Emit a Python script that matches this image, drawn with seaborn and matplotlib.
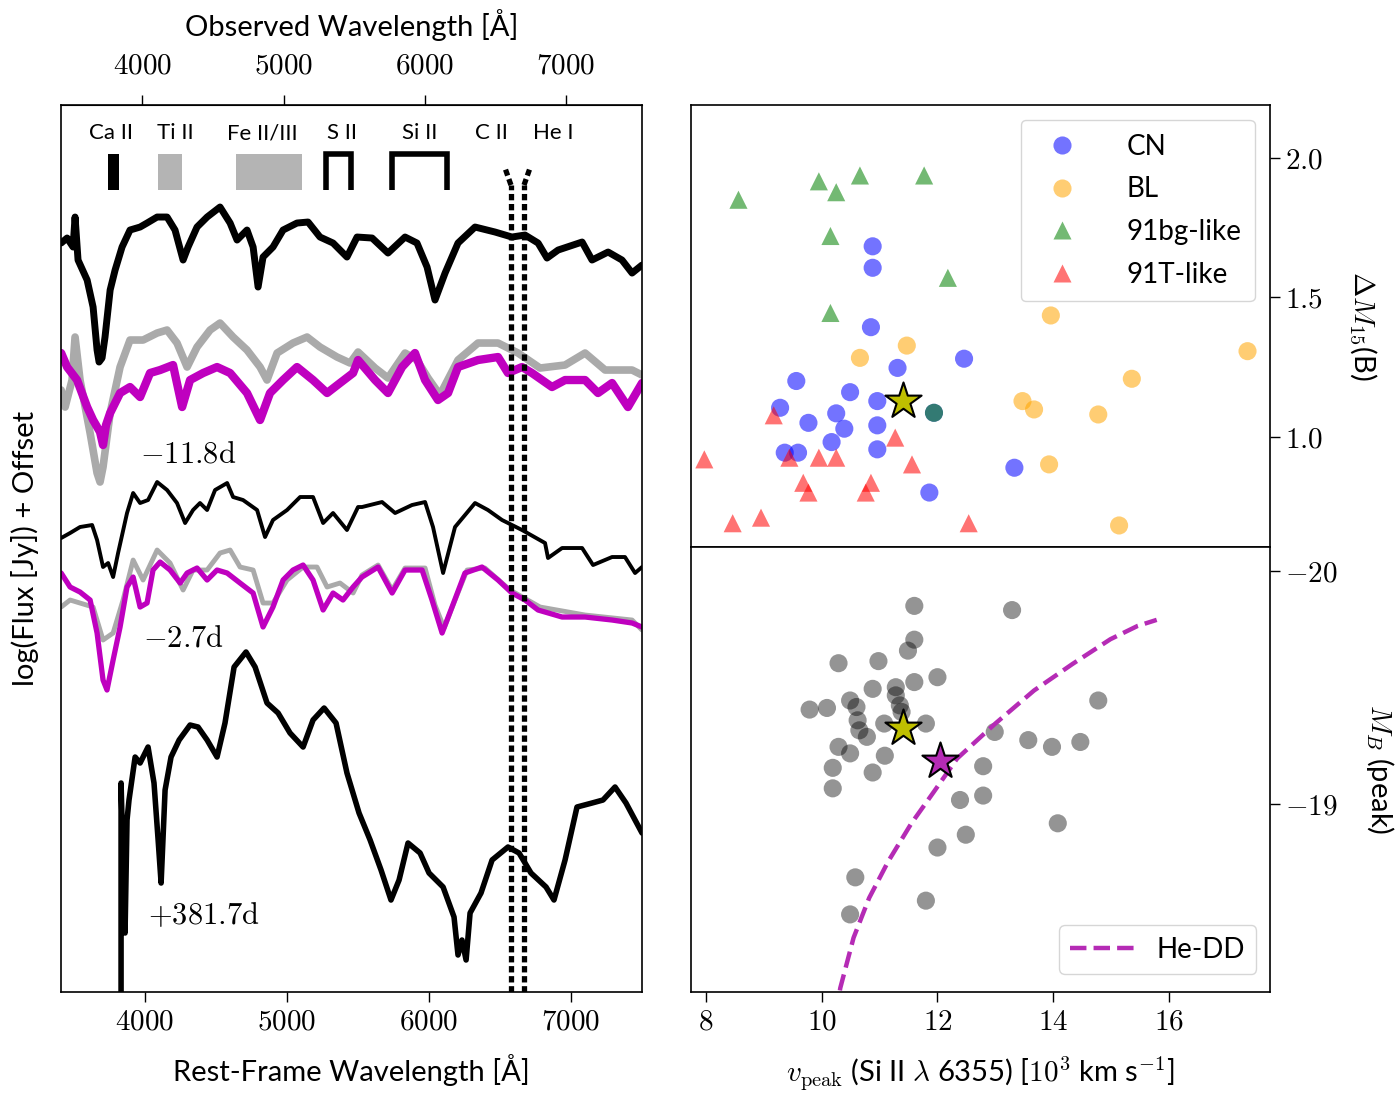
import numpy as np
import pandas as pd
import matplotlib
matplotlib.use("Agg")
import matplotlib.pyplot as plt
import seaborn as sns
from matplotlib.ticker import FuncFormatter, FixedLocator

sns.set_style("ticks", rc={"axes.edgecolor": "black", "xtick.color": "black",
                           "ytick.color": "black", "text.color": "black",
                           "axes.labelcolor": "black"})
plt.rcParams["font.family"] = ["Lato", "DejaVu Sans"]
plt.rcParams["mathtext.fontset"] = "cm"

# ---------------- spectra (rest wavelength [A], log flux + offset) ----------------
wave_a = [3409, 3451, 3493, 3507, 3528, 3592, 3634, 3662, 3676, 3697, 3718, 3754, 3789, 3838, 3894,
          3965, 4014, 4085, 4155, 4211, 4268, 4303, 4366, 4437, 4528, 4599, 4648, 4718, 4761, 4796,
          4831, 4901, 4972, 5070, 5148, 5232, 5324, 5422, 5493, 5599, 5711, 5831, 5915, 5986, 6042,
          6113, 6204, 6324, 6465, 6584, 6676, 6768, 6831, 6909, 7078, 7148, 7261, 7359, 7430, 7500]
flux_a = [7.49, 7.54, 7.45, 7.75, 7.32, 7.12, 6.85, 6.42, 6.30, 6.34, 6.55, 7.02, 7.22, 7.45, 7.62,
          7.65, 7.69, 7.75, 7.75, 7.62, 7.32, 7.45, 7.65, 7.75, 7.85, 7.69, 7.52, 7.62, 7.45, 7.05,
          7.35, 7.45, 7.62, 7.69, 7.70, 7.55, 7.49, 7.35, 7.55, 7.54, 7.39, 7.55, 7.49, 7.25, 6.92,
          7.19, 7.49, 7.65, 7.60, 7.55, 7.57, 7.49, 7.34, 7.42, 7.50, 7.32, 7.40, 7.32, 7.19, 7.27]

wave_b = [3409, 3451, 3521, 3592, 3634, 3683, 3704, 3725, 3754, 3824, 3894, 3965, 4035, 4106, 4197,
          4261, 4317, 4409, 4507, 4599, 4718, 4810, 4880, 4972, 5070, 5183, 5282, 5373, 5465, 5500,
          5620, 5711, 5810, 5901, 5972, 6063, 6134, 6204, 6345, 6486, 6556, 6655, 6725, 6866, 6958,
          7099, 7190, 7289, 7401, 7500]
flux_b = [6.39, 6.25, 6.12, 5.85, 5.72, 5.60, 5.47, 5.67, 5.79, 5.99, 6.05, 5.95, 6.19, 6.22, 6.27,
          5.85, 6.12, 6.19, 6.25, 6.19, 5.99, 5.72, 5.99, 6.12, 6.25, 6.12, 5.99, 6.09, 6.19, 6.32,
          6.12, 5.99, 6.25, 6.39, 6.12, 5.92, 5.99, 6.25, 6.32, 6.35, 6.19, 6.25, 6.19, 6.05, 6.12,
          6.12, 5.99, 6.09, 5.85, 6.09]

wave_c = [3409, 3437, 3486, 3507, 3542, 3613, 3662, 3683, 3704, 3754, 3824, 3894, 3986, 4085, 4155,
          4225, 4296, 4366, 4458, 4528, 4620, 4718, 4810, 4859, 4930, 5042, 5141, 5232, 5352, 5444,
          5500, 5620, 5711, 5831, 5915, 5993, 6077, 6204, 6345, 6486, 6627, 6782, 6958, 7099, 7240,
          7430, 7500]
flux_c = [6.02, 5.85, 6.12, 6.55, 6.12, 5.59, 5.19, 5.10, 5.25, 5.79, 6.25, 6.52, 6.52, 6.59, 6.62,
          6.49, 6.25, 6.45, 6.62, 6.69, 6.55, 6.42, 6.25, 6.12, 6.39, 6.49, 6.55, 6.45, 6.35, 6.29,
          6.40, 6.24, 6.14, 6.39, 6.32, 6.14, 5.97, 6.32, 6.49, 6.49, 6.39, 6.24, 6.27, 6.39, 6.22,
          6.22, 6.17]

wave_d = [3409, 3472, 3542, 3627, 3662, 3704, 3740, 3775, 3810, 3873, 3916, 3965, 4021, 4085, 4155,
          4225, 4282, 4338, 4387, 4437, 4493, 4578, 4620, 4690, 4789, 4845, 4901, 5000, 5092, 5183,
          5254, 5324, 5422, 5500, 5528, 5669, 5761, 5880, 5972, 6028, 6099, 6183, 6324, 6415, 6514,
          6655, 6817, 6838, 6937, 7078, 7155, 7289, 7380, 7451, 7500]
flux_d = [4.54, 4.59, 4.65, 4.67, 4.52, 4.25, 4.29, 4.15, 4.39, 4.79, 4.99, 4.89, 4.92, 5.10, 5.02,
          4.89, 4.69, 4.82, 4.89, 4.82, 5.02, 5.09, 4.95, 4.92, 4.82, 4.55, 4.72, 4.82, 4.95, 4.95,
          4.69, 4.79, 4.62, 4.85, 4.85, 4.90, 4.79, 4.87, 4.90, 4.65, 4.19, 4.65, 4.89, 4.82, 4.72,
          4.62, 4.49, 4.34, 4.44, 4.44, 4.27, 4.35, 4.35, 4.19, 4.25]

wave_e = [3409, 3472, 3542, 3613, 3662, 3704, 3732, 3775, 3824, 3873, 3916, 3965, 4014, 4056, 4106,
          4176, 4247, 4296, 4366, 4437, 4507, 4578, 4669, 4761, 4831, 4901, 4972, 5042, 5113, 5183,
          5254, 5324, 5394, 5465, 5528, 5641, 5740, 5831, 5951, 6021, 6092, 6162, 6253, 6373, 6486,
          6584, 6676, 6768, 6937, 7099, 7289, 7430, 7500]
flux_e = [4.19, 4.05, 4.00, 3.92, 3.59, 3.12, 3.02, 3.32, 3.65, 4.05, 4.15, 3.85, 3.89, 4.22, 4.30,
          4.22, 4.09, 4.19, 4.24, 4.12, 4.22, 4.19, 4.09, 3.99, 3.65, 3.85, 4.12, 4.22, 4.27, 4.12,
          3.82, 3.99, 3.92, 4.05, 4.15, 4.25, 3.99, 4.22, 4.22, 3.92, 3.59, 3.85, 4.19, 4.25, 4.12,
          3.99, 3.92, 3.82, 3.75, 3.75, 3.72, 3.69, 3.65]

wave_f = [3409, 3472, 3634, 3704, 3775, 3845, 3916, 3986, 4085, 4176, 4268, 4338, 4437, 4528, 4599,
          4669, 4761, 4831, 4901, 5000, 5113, 5211, 5282, 5373, 5465, 5528, 5641, 5740, 5831, 5972,
          6042, 6106, 6183, 6268, 6394, 6570, 6782, 7099, 7430, 7500]
flux_f = [3.85, 3.92, 3.85, 3.52, 3.59, 3.92, 4.32, 4.12, 4.42, 4.29, 4.02, 4.22, 4.22, 4.39, 4.42,
          4.25, 4.22, 3.89, 3.89, 4.12, 4.25, 4.25, 4.05, 4.09, 3.99, 4.17, 4.27, 4.02, 4.24, 4.24,
          3.87, 3.64, 3.92, 4.22, 4.24, 4.02, 3.85, 3.77, 3.72, 3.62]

wave_g = [3831, 3831, 3845, 3859, 3873, 3887, 3930, 3965, 4021, 4063, 4092, 4113, 4141, 4183, 4240,
          4317, 4373, 4437, 4507, 4563, 4627, 4711, 4775, 4859, 4937, 5021, 5113, 5183, 5261, 5345,
          5422, 5507, 5585, 5662, 5732, 5789, 5852, 5937, 6000, 6099, 6176, 6204, 6232, 6261, 6289,
          6366, 6444, 6556, 6634, 6718, 6824, 6880, 6958, 7042, 7148, 7225, 7310, 7387, 7500]
flux_g = [-0.05, 2.09, 1.32, 0.59, 1.72, 1.92, 2.35, 2.29, 2.45, 2.09, 1.52, 1.09, 2.02, 2.35, 2.52,
          2.67, 2.65, 2.52, 2.35, 2.69, 3.25, 3.40, 3.25, 2.89, 2.79, 2.59, 2.45, 2.72, 2.84, 2.69,
          2.19, 1.79, 1.52, 1.22, 0.92, 1.12, 1.49, 1.39, 1.19, 1.05, 0.75, 0.37, 0.52, 0.32, 0.79,
          0.99, 1.32, 1.45, 1.39, 1.19, 1.05, 0.92, 1.32, 1.85, 1.89, 1.92, 2.05, 1.89, 1.59]

phase_labels = ["-11.8d", "-2.7d", "+381.7d"]
phase_wave = [3965, 3986, 4021]
phase_flux = [5.39, 3.55, 0.77]

# line identifications
ion_names = ["Ca II", "Ti II", "Fe II/III", "S II", "Si II", "C II", "He I"]
ion_label_wave = [3761, 4211, 4824, 5387, 5937, 6437, 6873]
band_lo = [3738, 4092, 4641]
band_hi = [3816, 4261, 5106]
band_colors = ["black", "#b4b4b4", "#b4b4b4"]
bracket_lo = [5275, 5740]
bracket_hi = [5451, 6127]
dotted_waves = [6577, 6669]
z_host = 0.005

# ---------------- scatter data ----------------
cn_v = [10.88, 10.88, 10.85, 11.31, 12.46, 9.56, 10.49, 10.96, 9.28, 10.25, 9.77, 10.39, 10.96,
        10.17, 10.96, 9.36, 9.59, 11.94, 13.33, 11.86]
cn_dm = [1.683, 1.606, 1.393, 1.247, 1.28, 1.20, 1.16, 1.128, 1.104, 1.084, 1.05, 1.029, 1.041,
         0.981, 0.955, 0.943, 0.943, 1.086, 0.889, 0.80]
bl_v = [13.96, 11.47, 10.66, 17.36, 15.36, 13.47, 13.67, 14.78, 13.93, 15.14]
bl_dm = [1.435, 1.327, 1.283, 1.307, 1.208, 1.128, 1.098, 1.08, 0.901, 0.682]
bg_v = [8.56, 9.95, 10.25, 10.66, 11.77, 10.15, 12.18, 10.15]
bg_dm = [1.85, 1.916, 1.877, 1.937, 1.937, 1.72, 1.57, 1.444]
t_v = [7.97, 9.17, 9.44, 9.95, 10.25, 9.68, 9.77, 10.85, 10.76, 11.27, 11.56, 8.46, 8.95, 12.54]
t_dm = [0.919, 1.077, 0.925, 0.925, 0.925, 0.835, 0.80, 0.835, 0.80, 0.997, 0.901, 0.69, 0.71, 0.69]
overlap_v = [11.94]
overlap_dm = [1.086]

mb_v = [11.60, 13.29, 11.60, 11.49, 10.29, 10.98, 11.60, 12.00, 10.88, 11.28, 11.28, 10.49, 10.60,
        11.35, 11.38, 9.79, 10.09, 14.78, 10.62, 10.65, 10.78, 11.08, 11.80, 12.99, 13.57, 13.98,
        14.47, 10.29, 10.49, 11.09, 10.19, 10.88, 10.19, 12.79, 12.39, 12.79, 14.08, 12.49, 12.00,
        10.58, 11.80, 10.49]
mb_peak = [-19.85, -19.832, -19.705, -19.658, -19.604, -19.613, -19.523, -19.544, -19.494, -19.501,
           -19.466, -19.444, -19.416, -19.423, -19.395, -19.405, -19.412, -19.444, -19.359, -19.316,
           -19.288, -19.345, -19.345, -19.309, -19.274, -19.245, -19.266, -19.245, -19.217, -19.207,
           -19.155, -19.135, -19.067, -19.162, -19.017, -19.036, -18.917, -18.868, -18.813, -18.685,
           -18.585, -18.526]

sn_v = 11.41
sn_dm = 1.128
sn_mb = -19.326
model_star_v = 12.04
model_star_mb = -19.184

hedd_v = [10.25, 10.32, 10.55, 10.82, 11.15, 11.55, 11.94, 12.34, 13.00, 13.67, 14.33, 14.99, 15.46, 15.79]
hedd_mb = [-18.10, -18.21, -18.426, -18.597, -18.754, -18.917, -19.053, -19.195, -19.345, -19.487,
           -19.60, -19.707, -19.764, -19.79]

# ---------------- figure ----------------
fig = plt.figure(figsize=(13.96, 10.93), dpi=100)
axL = fig.add_axes([0.0437, 0.0924, 0.4162, 0.8115])
axT = fig.add_axes([0.4950, 0.4996, 0.4148, 0.4044])
axB = fig.add_axes([0.4950, 0.0924, 0.4148, 0.4072], sharex=axT)

mfmt = FuncFormatter(lambda v, p: f"${v:g}$")
TICK_FS = 21
LAB_FS = 21

MAG = "#bf00bf"
GRAY = "#aaaaaa"

def spec(ax, w, f, color, lw):
    sns.lineplot(x=w, y=f, ax=ax, color=color, lw=lw, sort=False, estimator=None)

spec(axL, wave_a, flux_a, "black", 5)
spec(axL, wave_c, flux_c, GRAY, 5.5)
spec(axL, wave_b, flux_b, MAG, 6)
spec(axL, wave_d, flux_d, "black", 2.8)
spec(axL, wave_f, flux_f, GRAY, 3.5)
spec(axL, wave_e, flux_e, MAG, 3.8)
spec(axL, wave_g, flux_g, "black", 4)

for lab, w, f in zip(phase_labels, phase_wave, phase_flux):
    axL.text(w, f, r"$\mathrm{" + lab + "}$", fontsize=22, va="center", ha="left")

for name, w in zip(ion_names, ion_label_wave):
    axL.text(w, 8.59, name, fontsize=16, ha="center", va="center")
for lo, hi, c in zip(band_lo, band_hi, band_colors):
    axL.fill_between([lo, hi], [8.02, 8.02], [8.38, 8.38], color=c, lw=0)
for lo, hi in zip(bracket_lo, bracket_hi):
    axL.plot([lo, lo, hi, hi], [8.02, 8.38, 8.38, 8.02], color="black", lw=4,
             solid_joinstyle="miter", solid_capstyle="butt")
for w, dx in zip(dotted_waves, [-42, 42]):
    axL.plot([w, w], [0, 8.07], color="black", lw=3.8, ls=(0, (1.2, 0.7)))
    axL.plot([w, w + dx], [8.07, 8.24], color="black", lw=3.8, ls=(0, (1.2, 0.7)))

axL.set_xlim(3408, 7500)
axL.set_ylim(0, 8.87)
axL.set_yticks([])
axL.xaxis.set_major_locator(FixedLocator([4000, 5000, 6000, 7000]))
axL.xaxis.set_major_formatter(mfmt)
axL.tick_params(axis="x", labelsize=TICK_FS, length=7, width=1, direction="out", top=False, pad=5)
axL.set_xlabel("Rest-Frame Wavelength [Å]", fontsize=LAB_FS, labelpad=14)
axL.set_ylabel("log(Flux [Jy]) + Offset", fontsize=LAB_FS, labelpad=16)

sec = axL.secondary_xaxis("top", functions=(lambda x: x * (1 + z_host), lambda x: x / (1 + z_host)))
sec.xaxis.set_major_locator(FixedLocator([4000, 5000, 6000, 7000]))
sec.xaxis.set_major_formatter(mfmt)
sec.tick_params(axis="x", labelsize=TICK_FS, length=7, width=1, direction="out", pad=12)
sec.set_xlabel("Observed Wavelength [Å]", fontsize=LAB_FS, labelpad=12)

# top right panel
df_top = pd.DataFrame({
    "v": cn_v + bl_v + bg_v + t_v,
    "dm": cn_dm + bl_dm + bg_dm + t_dm,
    "type": ["CN"] * len(cn_v) + ["BL"] * len(bl_v) + ["91bg-like"] * len(bg_v) + ["91T-like"] * len(t_v),
})
pal = {"CN": "blue", "BL": "orange", "91bg-like": "green", "91T-like": "red"}
mk = {"CN": "o", "BL": "o", "91bg-like": "^", "91T-like": "^"}
sns.scatterplot(data=df_top, x="v", y="dm", hue="type", style="type", palette=pal, markers=mk,
                hue_order=["CN", "BL", "91bg-like", "91T-like"],
                style_order=["CN", "BL", "91bg-like", "91T-like"],
                s=170, alpha=0.55, edgecolor="none", ax=axT)
sns.scatterplot(x=overlap_v, y=overlap_dm, color="green", s=170, alpha=0.55, edgecolor="none",
                marker="o", ax=axT, legend=False)
sns.scatterplot(x=[sn_v], y=[sn_dm], color="y", marker="*", s=750, edgecolor="black",
                linewidth=1.5, ax=axT, legend=False, zorder=5)
axT.set_ylim(0.605, 2.19)
axT.set_xlim(7.74, 17.75)
leg = axT.legend(loc="upper right", fontsize=20, frameon=True, borderpad=0.5,
                 labelspacing=0.6, handletextpad=1.3, bbox_to_anchor=(0.998, 0.998))
leg.get_frame().set_edgecolor("#cccccc")
for h in leg.legend_handles:
    h.set_alpha(0.55)

axT.yaxis.tick_right()
axT.yaxis.set_label_position("right")
axT.set_yticks([1.0, 1.5, 2.0])
axT.yaxis.set_major_formatter(FuncFormatter(lambda v, p: f"${v:.1f}$"))
axT.tick_params(axis="y", labelsize=TICK_FS, length=7, width=1, direction="out", left=False)
axT.tick_params(axis="x", labelbottom=False, length=7, width=1, direction="out")
axT.set_xlabel("")
axT.set_ylabel(r"$\Delta M_{15}$(B)", fontsize=LAB_FS, rotation=270, labelpad=40)

# bottom right panel
sns.scatterplot(x=mb_v, y=mb_peak, color="black", alpha=0.42, s=170, edgecolor="none", ax=axB,
                legend=False)
sns.lineplot(x=hedd_v, y=hedd_mb, ax=axB, color="#b52bb5", lw=3.2, ls="--", sort=False,
             estimator=None, label="He-DD")
sns.scatterplot(x=[sn_v], y=[sn_mb], color="y", marker="*", s=750, edgecolor="black",
                linewidth=1.5, ax=axB, legend=False, zorder=5)
sns.scatterplot(x=[model_star_v], y=[model_star_mb], color="#b52bb5", marker="*", s=750,
                edgecolor="black", linewidth=1.5, ax=axB, legend=False, zorder=5)
axB.set_ylim(-18.193, -20.103)
axB.set_xlim(7.74, 17.75)
legB = axB.legend(loc="lower right", fontsize=20, handlelength=2.3, bbox_to_anchor=(1.0, 0.01))
legB.get_frame().set_edgecolor("#cccccc")

axB.xaxis.set_major_locator(FixedLocator([8, 10, 12, 14, 16]))
axB.xaxis.set_major_formatter(mfmt)
axB.yaxis.tick_right()
axB.yaxis.set_label_position("right")
axB.set_yticks([-20, -19])
axB.yaxis.set_major_formatter(mfmt)
axB.tick_params(axis="both", labelsize=TICK_FS, length=7, width=1, direction="out")
axB.tick_params(axis="x", pad=5)
axB.tick_params(axis="y", left=False)
axB.set_xlabel(r"$v_{\rm peak}$ (Si II $\lambda$ 6355) [$10^3$ km s$^{-1}$]", fontsize=LAB_FS,
               labelpad=14)
axB.set_ylabel(r"$M_B$ (peak)", fontsize=LAB_FS, rotation=270, labelpad=42)

for ax in (axL, axT, axB):
    for s in ax.spines.values():
        s.set_visible(True)
        s.set_linewidth(1.2)
        s.set_color("black")

fig.savefig("out.png", dpi=100)
